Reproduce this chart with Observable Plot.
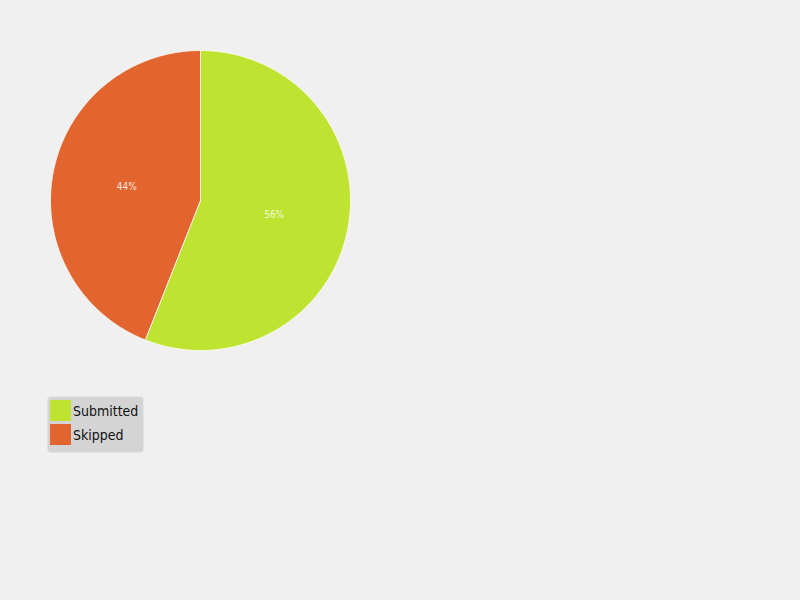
<!DOCTYPE html>
<html>
<head>
<meta charset="utf-8">
<script src="https://cdn.jsdelivr.net/npm/d3@7"></script>
<script src="https://cdn.jsdelivr.net/npm/@observablehq/plot@0.6"></script>
<style>
  html, body { margin: 0; padding: 0; background: #f0f0f0; }
  #chart svg { display: block; background: #f0f0f0; }
  #legend {
    position: absolute; left: 47px; top: 396px;
    width: 95px; height: 55px;
    background: #d4d4d4; border: 1px solid #e4e4e4; border-radius: 4px;
    font-family: "DejaVu Sans Condensed", "DejaVu Sans", sans-serif; font-size: 14px; color: #111;
  }
  .item { position: absolute; left: 2px; height: 21px; display: flex; align-items: center; }
  .sw { width: 21px; height: 21px; margin-right: 2px; box-sizing: border-box; }
</style>
</head>
<body>
<div id="chart"></div>
<div id="legend"></div>
<script>
const categories = ["Submitted", "Skipped"];
const values = [56, 44];
const colors = ["#bee330", "#e2652f"];

const total = d3.sum(values);
const slices = [];
let acc = 0;
categories.forEach((c, i) => {
  const a0 = acc / total * 2 * Math.PI;
  acc += values[i];
  const a1 = acc / total * 2 * Math.PI;
  slices.push({category: c, value: values[i], a0, a1});
});

// polygon outline points for each slice (geometry only)
const pts = [];
slices.forEach(s => {
  pts.push({category: s.category, x: 0, y: 0});
  const n = Math.max(2, Math.ceil((s.a1 - s.a0) / (Math.PI / 360)));
  for (let k = 0; k <= n; k++) {
    const a = s.a0 + (s.a1 - s.a0) * k / n;
    pts.push({category: s.category, x: Math.sin(a), y: Math.cos(a)});
  }
  pts.push({category: s.category, x: 0, y: 0});
});

const labels = slices.map(s => {
  const m = (s.a0 + s.a1) / 2;
  return {label: Math.round(s.value / total * 100) + "%", x: 0.5 * Math.sin(m), y: 0.5 * Math.cos(m)};
});

const chart = Plot.plot({
  width: 800,
  height: 380,
  margin: 0,
  style: {background: "#f0f0f0"},
  x: {domain: [-1, 1], range: [50, 350], axis: null},
  y: {domain: [-1, 1], range: [350, 50], axis: null},
  color: {domain: categories, range: colors},
  marks: [
    Plot.line(pts, {x: "x", y: "y", z: "category", fill: "category", stroke: "#ffffff", strokeWidth: 1, strokeOpacity: 0.8, curve: "linear"}),
    Plot.text(labels, {x: "x", y: "y", text: "label", fill: "#ffffff", fillOpacity: 0.85, fontSize: 10, fontFamily: "DejaVu Sans Condensed, DejaVu Sans, sans-serif"})
  ]
});
document.getElementById("chart").appendChild(chart);

const legend = document.getElementById("legend");
categories.forEach((c, i) => {
  const it = document.createElement("div");
  it.className = "item";
  it.style.top = (3 + i * 24) + "px";
  it.innerHTML = `<div class="sw" style="background:${colors[i]}"></div><span>${c}</span>`;
  legend.appendChild(it);
});
</script>
</body>
</html>
